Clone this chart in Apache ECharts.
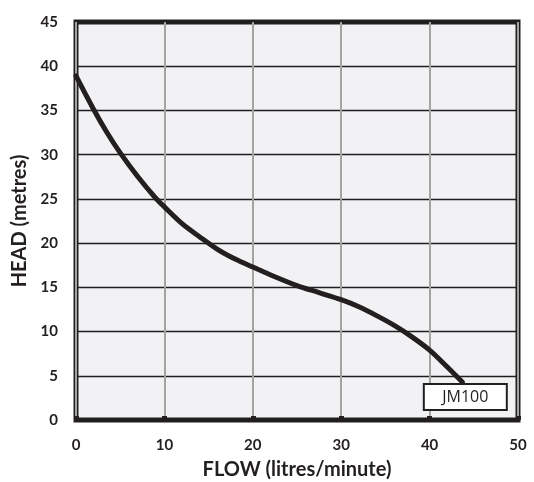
<!DOCTYPE html>
<html>
<head>
<meta charset="utf-8">
<script src="https://cdn.jsdelivr.net/npm/echarts@6/dist/echarts.min.js"></script>
<style>
  html, body { margin: 0; padding: 0; background: #fff; }
  #chart { width: 534px; height: 482px; }
</style>
</head>
<body>
<div id="chart"></div>
<script>
// pump curve JM100
var flow = [0, 2, 3.5, 5, 7, 9, 10, 12, 14, 16, 18, 20, 22.5, 25, 27.5, 30, 32, 34, 36, 38, 40, 42, 43.7];
var head = [38.9, 35.1, 32.5, 30.2, 27.5, 25.1, 24.1, 22.2, 20.7, 19.3, 18.2, 17.3, 16.2, 15.2, 14.4, 13.6, 12.8, 11.8, 10.7, 9.4, 7.9, 6.0, 4.3];
var seriesName = 'JM100';
var xTicks = [0, 10, 20, 30, 40, 50];
var yTicks = [0, 5, 10, 15, 20, 25, 30, 35, 40, 45];

var ink = '#231f20';
var font = 'Lato';

var points = flow.map(function (f, i) { return [f, head[i]]; });

var myChart = echarts.init(document.getElementById('chart'));
myChart.setOption({
  animation: false,
  grid: {
    left: 76, right: 16, top: 22, bottom: 62,
    outerBoundsMode: 'none',
    containLabel: false,
    show: true,
    backgroundColor: '#f2f2f4',
    borderColor: ink,
    borderWidth: 5
  },
  xAxis: {
    type: 'value',
    min: xTicks[0], max: xTicks[xTicks.length - 1], interval: 10,
    name: 'FLOW (litres/minute)',
    nameLocation: 'middle',
    nameGap: 40,
    nameTextStyle: { fontFamily: font, fontWeight: 'bold', fontSize: 20, color: ink },
    axisLine: { show: false },
    axisTick: { show: true, inside: true, length: 4, lineStyle: { color: ink, width: 5 } },
    axisLabel: { margin: 18, fontFamily: font, fontWeight: 'bold', fontSize: 15, color: ink },
    splitLine: { show: true, lineStyle: { color: '#a3a3a3', width: 2 } }
  },
  yAxis: {
    type: 'value',
    min: yTicks[0], max: yTicks[yTicks.length - 1], interval: 5,
    name: 'HEAD (metres)',
    nameLocation: 'middle',
    nameGap: 45,
    nameTextStyle: { fontFamily: font, fontWeight: 'bold', fontSize: 20, color: ink },
    axisLine: { show: false },
    axisTick: { show: false },
    axisLabel: { margin: 18, fontFamily: font, fontWeight: 'bold', fontSize: 15, color: ink },
    splitLine: { show: true, lineStyle: { color: '#1e1e1e', width: 1.3 } }
  },
  series: [{
    name: seriesName,
    type: 'line',
    data: points,
    smooth: 0.3,
    showSymbol: false,
    symbol: 'none',
    lineStyle: { color: ink, width: 5, cap: 'round' },
    endLabel: {
      show: true,
      formatter: seriesName,
      offset: [-5, 15],
      fontFamily: 'Open Sans',
      fontSize: 16,
      color: ink,
      backgroundColor: '#fff',
      borderColor: ink,
      borderWidth: 2,
      width: 81,
      height: 22,
      lineHeight: 22,
      align: 'center',
      padding: [1, 0]
    }
  }]
});
</script>
</body>
</html>
